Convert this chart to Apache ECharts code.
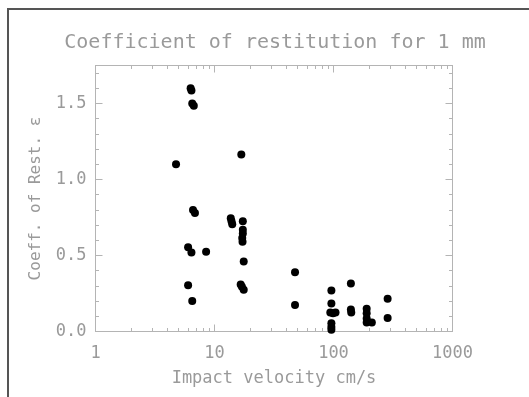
<!DOCTYPE html>
<html>
<head>
<meta charset="utf-8">
<script src="https://cdn.jsdelivr.net/npm/echarts@6/dist/echarts.min.js"></script>
<style>
html,body{margin:0;padding:0;background:#fff;}
#chart{width:529px;height:397px;}
</style>
</head>
<body>
<div id="chart"></div>
<script>
// Impact velocity (cm/s)
const velocity = [4.75, 6.3, 6.4, 6.5, 6.7, 6.6, 6.85, 6.0, 6.4, 8.5, 6.0, 6.5,
  13.7, 13.9, 14.1, 16.8, 17.3, 17.3, 17.3, 17.1, 17.2, 17.6, 16.6, 17.0, 17.6,
  47.5, 47.5, 96, 96, 94, 99, 104, 96, 96, 96, 140, 140, 141,
  190, 190, 190, 190, 210, 285, 285];
// Coefficient of restitution
const restitution = [1.10, 1.60, 1.585, 1.50, 1.485, 0.80, 0.78, 0.555, 0.52, 0.525, 0.305, 0.20,
  0.745, 0.725, 0.705, 1.165, 0.725, 0.67, 0.645, 0.615, 0.59, 0.46, 0.31, 0.295, 0.275,
  0.39, 0.175, 0.27, 0.185, 0.125, 0.12, 0.125, 0.055, 0.03, 0.012, 0.315, 0.145, 0.125,
  0.15, 0.12, 0.085, 0.06, 0.06, 0.215, 0.088];
const xMajorTicks = [1, 10, 100, 1000];
const xMinorTicks = [2,3,4,5,6,7,8,9,20,30,40,50,60,70,80,90,200,300,400,500,600,700,800,900];
const yMajorTicks = [0, 0.5, 1.0, 1.5];
const yMinorTicks = [0.1,0.2,0.3,0.4,0.6,0.7,0.8,0.9,1.1,1.2,1.3,1.4,1.6,1.7];
const titleText = 'Coefficient of restitution for 1 mm';
const xName = 'Impact velocity cm/s';
const yName = 'Coeff. of Rest. \u03b5';

const FONT = 'DejaVu Sans Mono';
const TXT = '#9a9a9a';
const AX = '#b4b4b4';

const chart = echarts.init(document.getElementById('chart'), null, {renderer: 'canvas'});

function xAx(pos, major, withLabel) {
  return {
    type: 'log', logBase: 10, min: 1, max: 1000, position: pos,
    gridIndex: 0,
    axisLine: {show: true, onZero: false, lineStyle: {color: AX, width: 1}},
    axisTick: {show: true, inside: true, length: major ? 7 : 3.5,
      customValues: major ? xMajorTicks : xMinorTicks, lineStyle: {color: AX}},
    axisLabel: withLabel ? {show: true, customValues: xMajorTicks, margin: 14,
      color: TXT, fontFamily: FONT, fontSize: 17,
      formatter: v => String(Math.round(v))} : {show: false},
    splitLine: {show: false},
    minorTick: {show: false},
    name: withLabel ? xName : '',
    nameLocation: 'middle', nameGap: 39,
    nameTextStyle: {color: TXT, fontFamily: FONT, fontSize: 17}
  };
}
function yAx(pos, major, withLabel) {
  return {
    type: 'value', min: 0, max: 1.75, position: pos,
    gridIndex: 0,
    axisLine: {show: true, onZero: false, lineStyle: {color: AX, width: 1}},
    axisTick: {show: true, inside: true, length: major ? 7 : 3.5,
      customValues: major ? yMajorTicks : yMinorTicks, lineStyle: {color: AX}},
    axisLabel: withLabel ? {show: true, customValues: yMajorTicks, margin: 9,
      color: TXT, fontFamily: FONT, fontSize: 17,
      formatter: v => v.toFixed(1)} : {show: false},
    splitLine: {show: false},
    minorTick: {show: false},
    name: withLabel ? yName : '',
    nameLocation: 'middle', nameGap: 52, nameRotate: 90,
    nameTextStyle: {color: TXT, fontFamily: FONT, fontSize: 16}
  };
}

const option = {
  backgroundColor: '#fff',
  animation: false,
  grid: {left: 95.5, right: 76.5, top: 65.5, bottom: 65.5, containLabel: false},
  xAxis: [xAx('bottom', true, true), xAx('bottom', false, false), xAx('top', true, false), xAx('top', false, false)],
  yAxis: [yAx('left', true, true), yAx('left', false, false), yAx('right', true, false), yAx('right', false, false)],
  graphic: [
    {type: 'line', shape: {x1: 8, y1: 9, x2: 529, y2: 9}, style: {stroke: '#555', lineWidth: 2}},
    {type: 'line', shape: {x1: 8, y1: 8, x2: 8, y2: 397}, style: {stroke: '#555', lineWidth: 2}},
    {type: 'text', x: 275, y: 43, style: {text: titleText, fill: TXT, font: '20px "' + FONT + '"',
      textAlign: 'center', textVerticalAlign: 'middle'}}
  ],
  series: [{
    type: 'scatter',
    xAxisIndex: 0, yAxisIndex: 0,
    symbol: 'circle', symbolSize: 8,
    itemStyle: {color: '#000', opacity: 1},
    data: velocity.map((v, i) => [v, restitution[i]])
  }]
};
chart.setOption(option);
</script>
</body>
</html>
